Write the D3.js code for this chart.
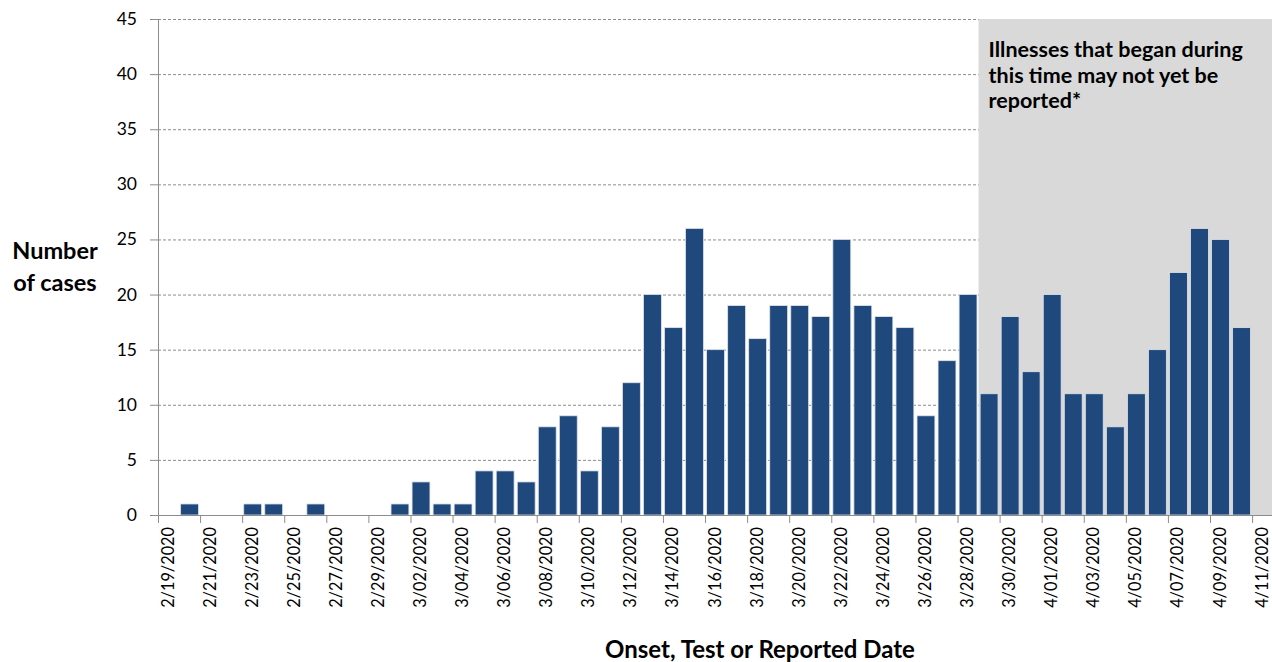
<!DOCTYPE html>
<html>
<head>
<meta charset="utf-8">
<script src="https://cdn.jsdelivr.net/npm/d3@7"></script>
<style>
  html, body { margin: 0; padding: 0; background: #fff; }
  svg { display: block; font-family: Lato, "Open Sans", sans-serif; }
</style>
</head>
<body>
<div id="chart"></div>
<script>
  // days shown on the axis, 2/19/2020 .. 4/11/2020
  var firstDay = new Date(2020, 1, 19);
  var lastDay = new Date(2020, 3, 12);
  var days = d3.timeDay.range(firstDay, lastDay);
  var fmt = d3.timeFormat("%-m/%d/%Y");
  var dayLabels = days.map(fmt);

  // cases per day, 2/19 .. 4/10
  var cases = [
    0, 1, 0, 0, 1, 1, 0, 1, 0, 0, 0,            // feb 19-29
    1, 3, 1, 1, 4, 4, 3, 8, 9, 4,               // mar 1-10
    8, 12, 20, 17, 26, 15, 19, 16, 19, 19,      // mar 11-20
    18, 25, 19, 18, 17, 9, 14, 20, 11, 18, 13,  // mar 21-31
    20, 11, 11, 8, 11, 15, 22, 26, 25, 17       // apr 1-10
  ];
  var yTicks = [0, 5, 10, 15, 20, 25, 30, 35, 40, 45];
  var shadeFrom = "3/29/2020";
  var noteLines = ["Illnesses that began during", "this time may not yet be", "reported*"];

  var W = 1272, H = 662;
  var plotLeft = 158, plotTop = 19, plotBottom = 515;
  var plotRight = plotLeft + 21.04 * dayLabels.length;

  var svg = d3.select("#chart").append("svg")
      .attr("width", W)
      .attr("height", H);

  var x = d3.scaleBand()
      .domain(dayLabels)
      .range([plotLeft, plotRight])
      .paddingInner(0.15)
      .paddingOuter(0.075);

  var y = d3.scaleLinear()
      .domain([0, 45])
      .range([plotBottom, plotTop]);

  var step = x.step();
  var edge = function(i) { return plotLeft + i * step; };

  // gridlines
  svg.append("g").selectAll("line")
      .data(yTicks.filter(d => d > 0))
      .enter().append("line")
      .attr("x1", plotLeft).attr("x2", plotRight)
      .attr("y1", d => y(d) + 0.5).attr("y2", d => y(d) + 0.5)
      .attr("stroke", "#8c8c8c")
      .attr("stroke-width", 1)
      .attr("stroke-dasharray", "3,2");

  // grey "not yet reported" block
  var shadeX = edge(dayLabels.indexOf(shadeFrom));
  svg.append("rect")
      .attr("x", shadeX)
      .attr("y", y(45))
      .attr("width", plotRight - shadeX)
      .attr("height", y(0) - y(45))
      .attr("fill", "#d9d9d9");

  var note = svg.append("text")
      .attr("x", shadeX + 10)
      .attr("y", 57)
      .attr("font-size", 21.5)
      .attr("font-weight", "bold")
      .attr("fill", "#000");
  note.selectAll("tspan")
      .data(noteLines)
      .enter().append("tspan")
      .attr("x", shadeX + 10)
      .attr("dy", (d, i) => i ? 25.5 : 0)
      .text(d => d);

  // bars
  svg.append("g").selectAll("rect")
      .data(cases)
      .enter().append("rect")
      .attr("x", (d, i) => x(dayLabels[i]))
      .attr("y", d => y(d))
      .attr("width", x.bandwidth())
      .attr("height", d => y(0) - y(d))
      .attr("fill", "#1f497d")
      .attr("stroke", "#dfe3ea")
      .attr("stroke-width", 0.8);

  // y axis
  var yAxis = svg.append("g");
  yAxis.append("line")
      .attr("x1", plotLeft + 0.5).attr("x2", plotLeft + 0.5)
      .attr("y1", y(45)).attr("y2", y(0))
      .attr("stroke", "#8c8c8c");
  yAxis.selectAll("line.tick")
      .data(yTicks)
      .enter().append("line")
      .attr("class", "tick")
      .attr("x1", plotLeft - 8).attr("x2", plotLeft)
      .attr("y1", d => y(d) + 0.5).attr("y2", d => y(d) + 0.5)
      .attr("stroke", "#8c8c8c");
  yAxis.selectAll("text")
      .data(yTicks)
      .enter().append("text")
      .attr("x", 137)
      .attr("y", d => y(d) + 6)
      .attr("text-anchor", "end")
      .attr("font-size", 17.5)
      .attr("fill", "#000")
      .text(d => d);

  // x axis
  var xAxis = svg.append("g");
  xAxis.append("line")
      .attr("x1", plotLeft).attr("x2", plotRight)
      .attr("y1", plotBottom + 0.5).attr("y2", plotBottom + 0.5)
      .attr("stroke", "#8c8c8c");
  var tickIdx = d3.range(0, dayLabels.length, 2);
  xAxis.selectAll("line.tick")
      .data(tickIdx)
      .enter().append("line")
      .attr("class", "tick")
      .attr("x1", d => edge(d) + 0.5).attr("x2", d => edge(d) + 0.5)
      .attr("y1", plotBottom).attr("y2", plotBottom + 8)
      .attr("stroke", "#8c8c8c");
  xAxis.selectAll("text")
      .data(tickIdx)
      .enter().append("text")
      .attr("transform", d => "translate(" + (x(dayLabels[d]) + x.bandwidth() / 2 + 5) + "," + (plotBottom + 12) + ") rotate(-90)")
      .attr("text-anchor", "end")
      .attr("font-size", 16.3)
      .attr("fill", "#000")
      .text(d => dayLabels[d]);

  // axis titles
  var yTitle = svg.append("text")
      .attr("x", 55)
      .attr("y", 259)
      .attr("text-anchor", "middle")
      .attr("font-size", 23.5)
      .attr("font-weight", "bold")
      .attr("fill", "#000");
  yTitle.append("tspan").attr("x", 55).text("Number");
  yTitle.append("tspan").attr("x", 55).attr("dy", 32).text("of cases");

  svg.append("text")
      .attr("x", 760)
      .attr("y", 658)
      .attr("text-anchor", "middle")
      .attr("font-size", 24)
      .attr("font-weight", "bold")
      .attr("fill", "#000")
      .text("Onset, Test or Reported Date");
</script>
</body>
</html>
